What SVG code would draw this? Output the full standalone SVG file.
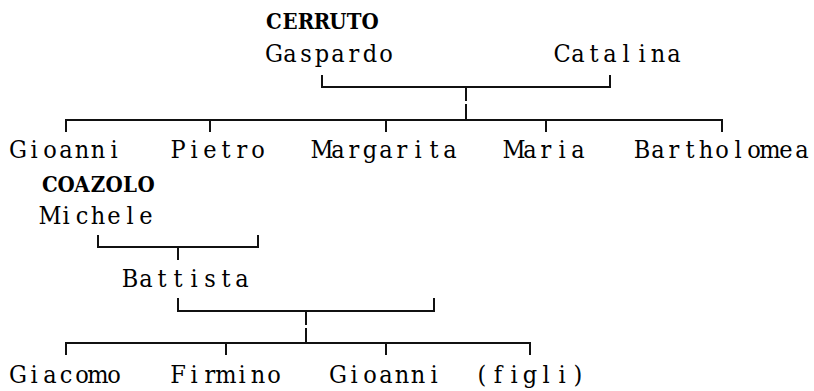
<svg xmlns="http://www.w3.org/2000/svg" width="814" height="391" viewBox="0 0 814 391">
<style>
text{font-family:"DejaVu Serif","Liberation Serif",serif;font-stretch:condensed;font-size:25px;text-anchor:middle;fill:#000;}
.b{font-weight:bold;font-size:22px;}
.c{fill:none;stroke:#111;stroke-width:2;}
</style>
<rect width="814" height="391" fill="#fff"/>
<g id="connectors" class="c">
<path d="M322,75V87H610V75M466,87V101M466,104V120"/>
<path d="M66,132V120H722V132M210,120V132M386,120V132M546,120V132"/>
<path d="M98,235V247H258V235M178,247V260"/>
<path d="M178,298V311H434V298M306,311V325M306,328V343"/>
<path d="M66,355V343H530V355M226,343V355M386,343V355"/>
</g>
<g id="gaspardo"><text class="b" x="274 290 306 322 338 354 370" y="29">CERRUTO</text><text x="274 290 306 322 338 354 370 386" y="62">Gaspardo</text></g>
<g id="catalina"><text x="562 578 594 610 626 642 658 674" y="62">Catalina</text></g>
<g id="gioanni1"><text x="18 34 50 66 82 98 114" y="158">Gioanni</text></g>
<g id="pietro"><text x="178 194 210 226 242 258" y="158">Pietro</text></g>
<g id="margarita"><text x="322 338 354 370 386 402 418 434 450" y="158">Margarita</text></g>
<g id="maria"><text x="514 530 546 562 578" y="158">Maria</text></g>
<g id="bartholomea"><text x="642 658 674 690 706 722 738 754 770 786 802" y="158">Bartholomea</text></g>
<g id="michele"><text class="b" x="50 66 82 98 114 130 146" y="192">COAZOLO</text><text x="50 66 82 98 114 130 146" y="224">Michele</text></g>
<g id="battista"><text x="130 146 162 178 194 210 226 242" y="287">Battista</text></g>
<g id="giacomo"><text x="18 34 50 66 82 98 114" y="383">Giacomo</text></g>
<g id="firmino"><text x="178 194 210 226 242 258 274" y="383">Firmino</text></g>
<g id="gioanni2"><text x="338 354 370 386 402 418 434" y="383">Gioanni</text></g>
<g id="figli"><text x="482 498 514 530 546 562 578" y="383">(figli)</text></g>
</svg>
